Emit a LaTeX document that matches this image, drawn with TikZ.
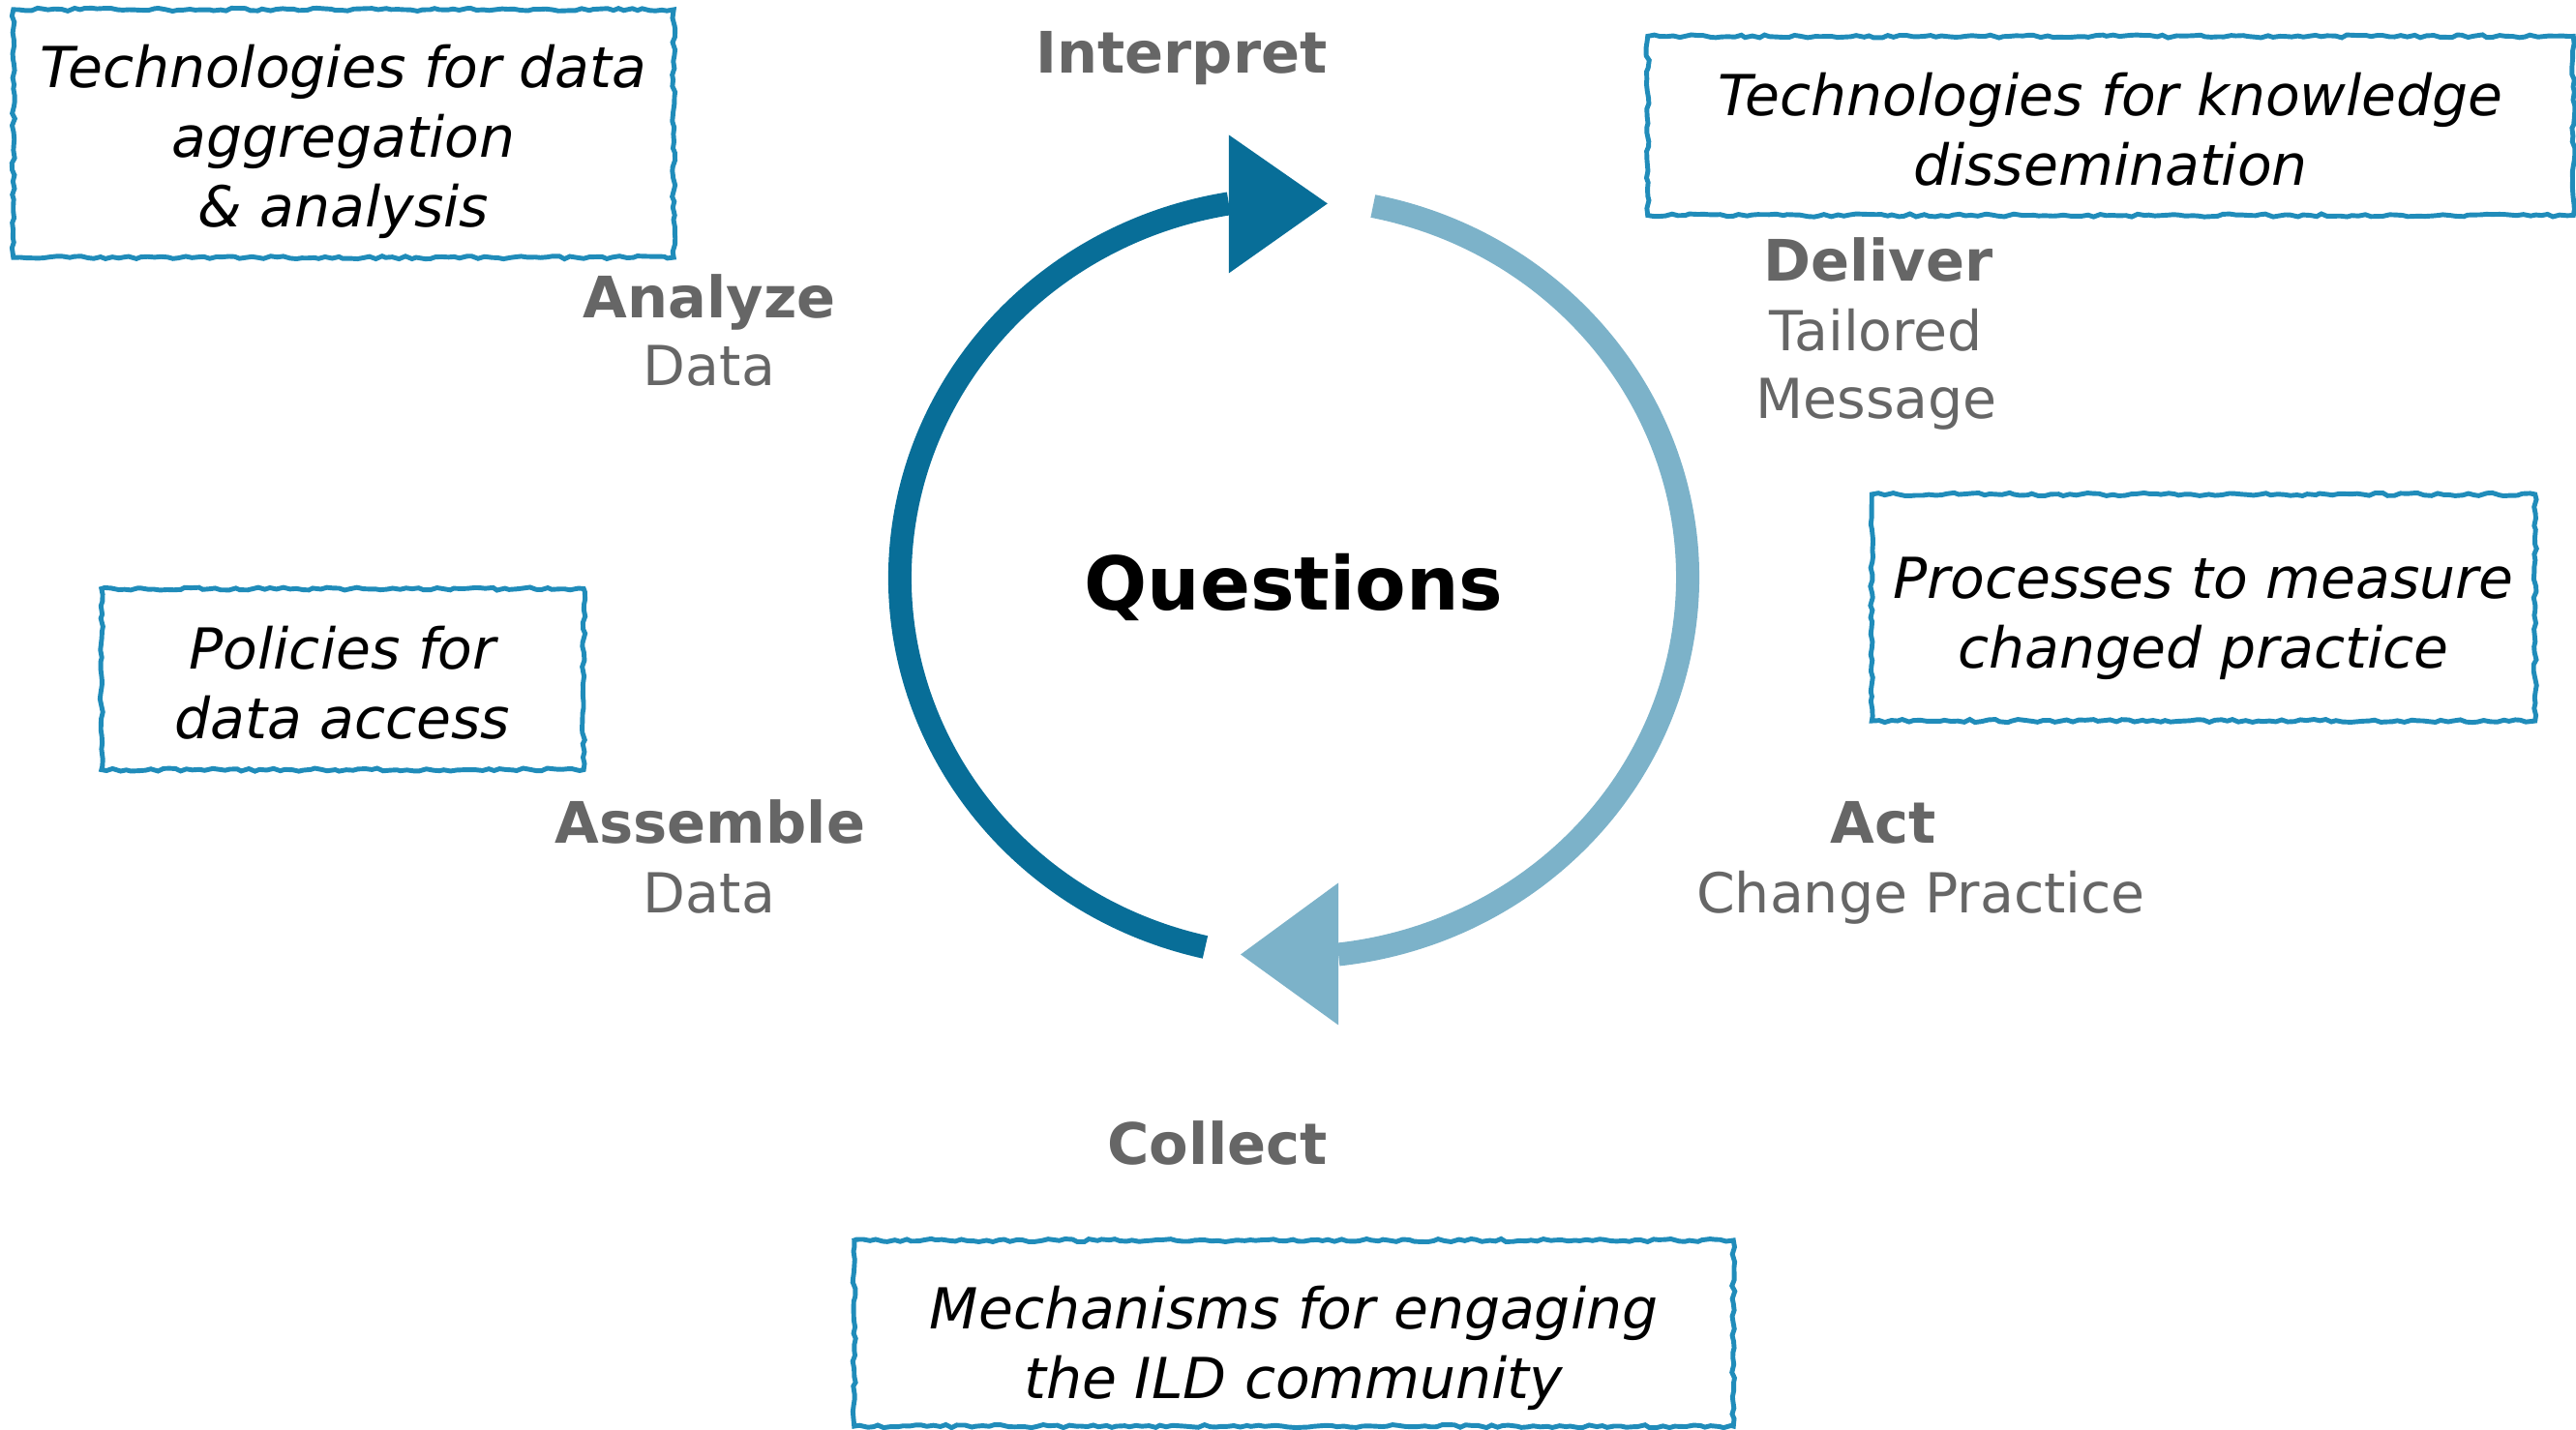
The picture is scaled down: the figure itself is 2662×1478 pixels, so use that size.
\documentclass[tikz,border=0pt]{standalone}
\usepackage{fontspec}
\setmainfont{DejaVu Sans}[BoldFont={DejaVu Sans Bold}, ItalicFont={DejaVu Sans Oblique}]
\usepackage{xcolor}
\usetikzlibrary{decorations.pathmorphing, calc}

\definecolor{cycledark}{RGB}{8,110,152}
\definecolor{cyclelight}{RGB}{124,178,201}
\definecolor{boxblue}{RGB}{32,140,186}
\definecolor{labelgray}{RGB}{102,102,102}

\newcommand{\stagehead}[1]{{\fontsize{16.8}{20.5}\selectfont\bfseries #1}}

\tikzset{
  stage/.style={text=labelgray, font=\fontsize{16.2}{20.5}\selectfont, inner sep=0pt, anchor=base},
  toolframe/.style={draw=boxblue, line width=1.4pt, decorate,
    decoration={random steps, segment length=1.8pt, amplitude=0.45pt}, inner sep=0pt},
  tooltext/.style={font=\fontsize{16.6}{20.5}\selectfont\itshape, align=center, inner sep=0pt},
  darkring/.style={draw=cycledark, line width=0.24cm},
  lightring/.style={draw=cyclelight, line width=0.24cm}
}

\begin{document}
\begin{tikzpicture}[x=0.01cm, y=0.01cm]
          \pgfmathsetseed{11}
          \useasboundingbox (0,0) rectangle (2662,-1478);
          \coordinate (ctr) at (1337,-597);

          % the cycle
          \draw[darkring] (ctr) ++(257:407 and 392)
            arc[start angle=257, end angle=99.5, x radius=407, y radius=392] coordinate (dkend);
          \fill[cycledark] (dkend) ++(0,71) -- ++(102,-71) -- ++(-102,-72) -- cycle;
          \draw[lightring] (ctr) ++(78.4:407 and 392)
            arc[start angle=78.4, end angle=-83.5, x radius=407, y radius=392] coordinate (ltend);
          \fill[cyclelight] (ltend) ++(0,74) -- ++(-101,-74) -- ++(101,-73) -- cycle;

          \node[font=\fontsize{21.8}{26}\selectfont\bfseries, inner sep=0pt, anchor=base] (questions) at (1337,-630) {Questions};

          % stages
          \node[stage] (interpret) at (1221,-75) {\stagehead{Interpret}};
          \node[stage] (analyze) at (733,-328) {\stagehead{Analyze}};
          \node[stage] (analyzedata) at (733,-398) {Data};
          \node[stage] (deliver) at (1941,-290) {\stagehead{Deliver}};
          \node[stage] (tailored) at (1939,-362) {Tailored};
          \node[stage] (message) at (1939,-432) {Message};
          \node[stage] (assemble) at (734,-871) {\stagehead{Assemble}};
          \node[stage] (assembledata) at (733,-943) {Data};
          \node[stage] (act) at (1946,-871) {\stagehead{Act}};
          \node[stage] (changepractice) at (1985,-943) {Change Practice};
          \node[stage] (collect) at (1258,-1203) {\stagehead{Collect}};

          % enablers
          \node[toolframe, minimum width=6.82cm, minimum height=2.56cm] (aggregation) at (355,-138) {};
          \node[tooltext] (aggregationtext) at ($(aggregation.center)+(0,-8)$)
            {Technologies for data\\aggregation\\\& analysis};
          \node[toolframe, minimum width=9.56cm, minimum height=1.85cm] (dissemination) at (2181,-130) {};
          \node[tooltext] (disseminationtext) at ($(dissemination.center)+(0,-4)$)
            {Technologies for knowledge\\dissemination};
          \node[toolframe, minimum width=6.85cm, minimum height=2.34cm] (measure) at (2277,-628) {};
          \node[tooltext] (measuretext) at ($(measure.center)+(0,-11)$)
            {Processes to measure\\changed practice};
          \node[toolframe, minimum width=4.98cm, minimum height=1.87cm] (access) at (354,-702) {};
          \node[tooltext] (accesstext) at ($(access.center)+(0,-4)$)
            {Policies for\\data access};
          \node[toolframe, minimum width=9.08cm, minimum height=1.92cm] (engaging) at (1337,-1378) {};
          \node[tooltext] (engagingtext) at ($(engaging.center)+(0,-15)$)
            {Mechanisms for engaging\\the ILD community};
        \end{tikzpicture}
\end{document}
